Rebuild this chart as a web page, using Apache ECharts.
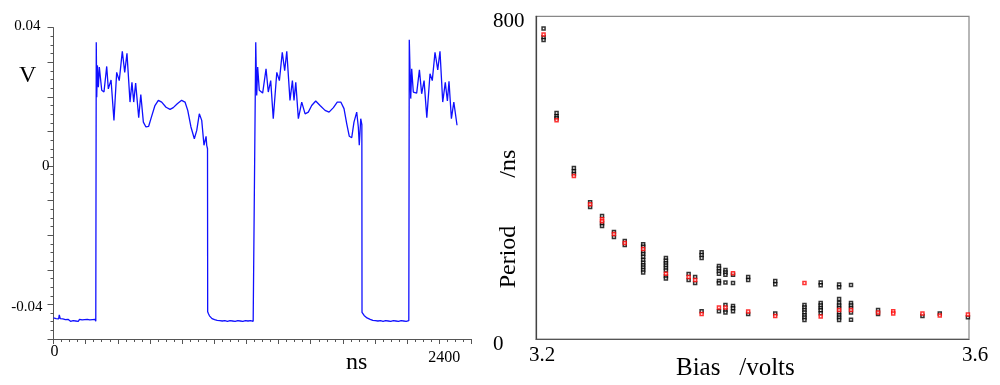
<!DOCTYPE html>
<html>
<head>
<meta charset="utf-8">
<script src="https://cdn.jsdelivr.net/npm/echarts@6/dist/echarts.min.js"></script>
<style>
html,body{margin:0;padding:0;background:#fff;}
#chart{width:1000px;height:385px;}
</style>
</head>
<body>
<div id="chart"></div>
<script>
// ---- Left panel: voltage waveform (time in ns, voltage in V) ----
const waveTime = [
  0,8,16,24,32,36,42,50,58,66,74,82,90,98,106,114,122,130,138,146,154,162,170,178,186,194,202,210,218,226,234,242,250,258,263,
  264,266,269,273,279,285,300,314,331,341,358,376,393,409,428,443,457,476,488,499,511,530,543,559,575,592,608,631,652,673,700,725,745,770,797,818,835,855,876,891,907,922,936,949,953,958,
  959,964,970,978,986,994,1002,1010,1018,1026,1034,1042,1050,1058,1066,1074,1082,1090,1098,1106,1114,1122,1130,1138,1146,1154,1162,1170,1178,1186,1194,1202,1210,1218,1226,1234,1242,1250,1253,
  1258,1264,1270,1280,1301,1322,1336,1351,1367,1389,1405,1423,1438,1451,1471,1486,1496,1507,1523,1544,1565,1585,1606,1631,1658,1689,1714,1741,1765,1787,1807,1824,1840,1855,1869,1886,1896,1902,1911,1918,
  1919,1925,1932,1940,1950,1960,1970,1978,1986,1994,2002,2010,2018,2026,2034,2042,2050,2058,2066,2074,2082,2090,2098,2106,2114,2122,2130,2138,2146,2154,2162,2170,2178,2186,2194,2202,2210,
  2213,2222,2228,2238,2259,2276,2290,2305,2322,2342,2356,2373,2390,2404,2421,2437,2450,2460,2475,2490,2510
];
const waveVolt = [
  -0.0439,-0.0439,-0.0441,-0.0440,-0.0442,-0.0430,-0.0441,-0.0446,-0.0442,-0.0447,-0.0444,-0.0448,-0.0443,-0.0447,-0.0449,-0.0444,-0.0447,-0.0443,-0.0448,-0.0445,-0.0449,-0.0443,-0.0447,-0.0445,-0.0449,-0.0444,-0.0447,-0.0443,-0.0448,-0.0445,-0.0449,-0.0444,-0.0447,-0.0443,-0.0449,
  -0.0448,0.0358,0.0199,0.0291,0.0228,0.0286,0.0219,0.0214,0.0288,0.0223,0.0249,0.0132,0.0271,0.0247,0.0332,0.0271,0.0326,0.0185,0.0242,0.0185,0.0240,0.0140,0.0207,0.0127,0.0113,0.0115,0.0140,0.0175,0.0190,0.0185,0.0170,0.0164,0.0169,0.0180,0.0190,0.0185,0.0161,0.0113,0.0079,0.0103,0.0151,0.0132,0.0060,0.0086,0.0060,0.0050,
  -0.0421,-0.0427,-0.0433,-0.0438,-0.0441,-0.0439,-0.0444,-0.0442,-0.0446,-0.0443,-0.0447,-0.0444,-0.0448,-0.0443,-0.0447,-0.0445,-0.0449,-0.0444,-0.0447,-0.0443,-0.0448,-0.0445,-0.0449,-0.0444,-0.0447,-0.0443,-0.0448,-0.0445,-0.0449,-0.0444,-0.0447,-0.0443,-0.0448,-0.0444,-0.0447,-0.0445,-0.0449,-0.0446,-0.0447,
  0.0358,0.0204,0.0286,0.0219,0.0211,0.0281,0.0214,0.0247,0.0137,0.0271,0.0247,0.0329,0.0276,0.0332,0.0190,0.0247,0.0190,0.0242,0.0137,0.0185,0.0151,0.0156,0.0175,0.0188,0.0175,0.0161,0.0156,0.0169,0.0185,0.0185,0.0166,0.0122,0.0086,0.0082,0.0127,0.0156,0.0113,0.0060,0.0137,0.0120,
  -0.0423,-0.0428,-0.0432,-0.0436,-0.0439,-0.0441,-0.0443,-0.0441,-0.0446,-0.0443,-0.0447,-0.0444,-0.0448,-0.0443,-0.0447,-0.0445,-0.0449,-0.0444,-0.0447,-0.0443,-0.0448,-0.0445,-0.0449,-0.0444,-0.0447,-0.0443,-0.0448,-0.0445,-0.0449,-0.0444,-0.0447,-0.0443,-0.0448,-0.0445,-0.0449,-0.0444,-0.0447,
  0.0365,0.0195,0.0281,0.0214,0.0211,0.0278,0.0209,0.0247,0.0140,0.0267,0.0247,0.0329,0.0278,0.0332,0.0185,0.0242,0.0188,0.0245,0.0137,0.0185,0.0118
];
const leftYLabels = ['0.04', '0', '-0.04'];
const leftXLabels = ['0', '2400'];

// ---- Right panel: period vs bias ----
const blackBias = [
  3.207,3.207,3.207,
  3.219,3.219,3.219,
  3.235,3.235,3.235,
  3.250,3.250,
  3.261,3.261,3.261,
  3.272,3.272,
  3.282,3.282,
  3.299,3.299,3.299,3.299,3.299,3.299,3.299,3.299,3.299,3.299,3.299,
  3.320,3.320,3.320,3.320,3.320,3.320,3.320,3.320,
  3.341,3.341,
  3.347,3.347,
  3.353,3.353,3.353,3.353,
  3.369,3.369,3.369,3.369,3.369,3.369,3.369,
  3.375,3.375,3.375,3.375,3.375,3.375,3.375,
  3.382,3.382,3.382,3.382,3.382,
  3.396,3.396,3.396,
  3.421,3.421,3.421,
  3.448,3.448,3.448,3.448,3.448,3.448,3.448,
  3.463,3.463,3.463,3.463,3.463,3.463,3.463,
  3.480,3.480,3.480,3.480,3.480,3.480,3.480,3.480,3.480,3.480,
  3.491,3.491,3.491,3.491,3.491,3.491,
  3.516,3.516,
  3.557,
  3.573,
  3.599
];
const blackPeriod = [
  770,748,741,
  560,552,547,
  424,416,409,
  339,327,
  305,287,280,
  265,253,
  243,233,
  235,229,217,211,204,196,189,183,177,171,165,
  201,194,188,182,176,170,156,150,
  161,146,
  154,139,
  215,208,201,69,
  181,175,168,162,144,138,69,
  171,165,159,140,84,72,66,
  159,139,82,76,69,
  154,146,62,
  144,136,63,
  84,78,72,66,59,53,47,
  140,133,89,83,77,71,64,
  135,128,99,89,83,77,66,59,53,47,
  134,89,83,77,66,48,
  72,62,
  57,
  63,
  54
];
const redBias = [3.207,3.219,3.235,3.250,3.261,3.261,3.272,3.282,3.299,3.320,3.341,3.347,3.353,3.369,3.375,3.382,3.396,3.421,3.448,3.463,3.480,3.491,3.516,3.530,3.530,3.557,3.573,3.599];
const redPeriod = [755,542,404,334,297,292,260,238,223,162,154,146,62,78,78,163,68,57,139,56,72,72,66,69,63,63,58,61];
const rightXLabels = ['3.2', '3.6'];
const rightYLabels = ['0', '800'];

const serif = "'Liberation Serif', 'Times New Roman', serif";

const chart = echarts.init(document.getElementById('chart'), null, {renderer: 'canvas'});

function zip(a, b) { return a.map((v, i) => [v, b[i]]); }

const option = {
  animation: false,
  backgroundColor: '#fff',
  grid: [
    {left: 53.5, top: 27.7, width: 418, height: 311.3, show: false},
    {left: 536, top: 16.3, width: 433, height: 322.7, show: true, borderColor: '#888', borderWidth: 1.2, backgroundColor: 'transparent'}
  ],
  xAxis: [
    {
      gridIndex: 0, type: 'value', min: 0, max: 2600, interval: 200,
      axisLine: {onZero: false, lineStyle: {color: '#555', width: 1}},
      axisTick: {show: true, length: 5, lineStyle: {color: '#555'}},
      minorTick: {show: true, splitNumber: 4, length: 3, lineStyle: {color: '#555'}},
      splitLine: {show: false},
      axisLabel: {
        margin: 3, color: '#000', fontFamily: serif, fontSize: 16,
        formatter: function (v) {
          if (v === 0) return '{a|' + leftXLabels[0] + '}';
          if (v === 2400) return '{b|' + leftXLabels[1] + '}';
          return '';
        },
        rich: {
          a: {fontFamily: serif, fontSize: 16, color: '#000', padding: [2, 0, 0, 2]},
          b: {fontFamily: serif, fontSize: 16, color: '#000', padding: [8, 0, 0, 10]}
        }
      }
    },
    {
      gridIndex: 1, type: 'value', min: 3.2, max: 3.6, interval: 0.4,
      axisLine: {onZero: false, lineStyle: {color: '#555', width: 1.2}},
      axisTick: {show: false},
      splitLine: {show: false},
      axisLabel: {
        margin: 6, color: '#000', fontFamily: serif, fontSize: 21, padding: [0, 0, 0, 12],
        formatter: function (v) {
          const r = Math.round(v * 10);
          if (r === 32) return rightXLabels[0];
          if (r === 36) return rightXLabels[1];
          return '';
        }
      }
    }
  ],
  yAxis: [
    {
      gridIndex: 0, type: 'value', min: -0.05, max: 0.04, interval: 0.01,
      axisLine: {show: true, onZero: false, lineStyle: {color: '#555', width: 1}},
      axisTick: {show: true, length: 6, lineStyle: {color: '#555'}},
      minorTick: {show: true, splitNumber: 4, length: 3, lineStyle: {color: '#555'}},
      splitLine: {show: false},
      axisLabel: {
        margin: 4, color: '#000', fontFamily: serif, fontSize: 15,
        formatter: function (v) {
          const r = Math.round(v * 100);
          if (r === 4) return '{p|' + leftYLabels[0] + '}';
          if (r === 0) return '{z|' + leftYLabels[1] + '}';
          if (r === -4) return '{n|' + leftYLabels[2] + '}';
          return '';
        },
        rich: {
          p: {fontFamily: serif, fontSize: 15, color: '#000', padding: [0, 9, 4, 0]},
          z: {fontFamily: serif, fontSize: 15, color: '#000', padding: [0, 0, 0, 0]},
          n: {fontFamily: serif, fontSize: 15, color: '#000', padding: [5, 7, 0, 0]}
        }
      }
    },
    {
      gridIndex: 1, type: 'value', min: 0, max: 800, interval: 800,
      axisLine: {show: true, onZero: false, lineStyle: {color: '#444', width: 1.2}},
      axisTick: {show: false},
      splitLine: {show: false},
      axisLabel: {
        margin: 43, align: 'left', color: '#000', fontFamily: serif, fontSize: 21,
        formatter: function (v) {
          if (v === 0) return '{t|' + rightYLabels[0] + '}';
          if (v === 800) return '{t|' + rightYLabels[1] + '}';
          return '';
        },
        rich: {
          t: {fontFamily: serif, fontSize: 21, color: '#000', padding: [11, 0, 0, 0]}
        }
      }
    }
  ],
  graphic: [
    {type: 'text', left: 19, top: 64, style: {text: 'V', font: '24px ' + serif, fill: '#000'}},
    {type: 'text', left: 346, top: 351, style: {text: 'ns', font: '24px ' + serif, fill: '#000'}},
    {type: 'text', left: 676, top: 356, style: {text: 'Bias   /volts', font: '25px ' + serif, fill: '#000'}},
    {type: 'text', x: 509, y: 219, rotation: Math.PI / 2,
     style: {text: 'Period        /ns', font: '24px ' + serif, fill: '#000', textAlign: 'center', textVerticalAlign: 'middle'}}
  ],
  series: [
    {
      type: 'line', xAxisIndex: 0, yAxisIndex: 0,
      data: zip(waveTime, waveVolt),
      showSymbol: false, symbol: 'none',
      lineStyle: {color: '#1010ff', width: 1.3},
      clip: true
    },
    {
      type: 'scatter', xAxisIndex: 1, yAxisIndex: 1,
      data: zip(blackBias, blackPeriod),
      symbol: 'rect', symbolSize: [3, 3],
      itemStyle: {color: '#fff', borderColor: '#000', borderWidth: 1.5}
    },
    {
      type: 'scatter', xAxisIndex: 1, yAxisIndex: 1,
      data: zip(redBias, redPeriod),
      symbol: 'rect', symbolSize: [3, 3],
      itemStyle: {color: '#fff', borderColor: '#ff0000', borderWidth: 1.5}
    }
  ]
};
chart.setOption(option);
</script>
</body>
</html>
